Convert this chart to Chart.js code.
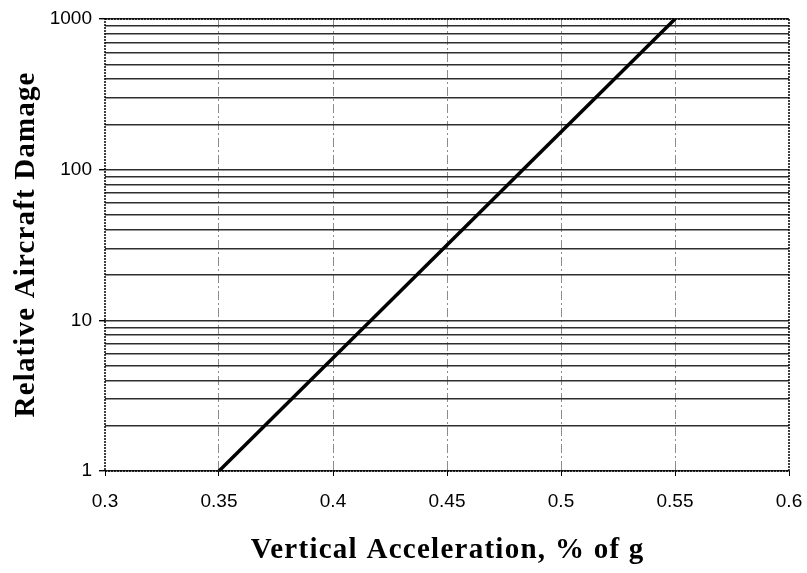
<!DOCTYPE html>
<html>
<head>
<meta charset="utf-8">
<script src="https://cdn.jsdelivr.net/npm/chart.js@4/dist/chart.umd.min.js"></script>
<style>
  html, body { margin:0; padding:0; background:#fff; }
  canvas { display:block; }
</style>
</head>
<body>
<canvas id="c" width="807" height="573"></canvas>
<script>
// damage curve (straight on the log scale)
const accel = [0.35, 0.55];
const damage = [1, 1000];

const xTicks = [0.3, 0.35, 0.4, 0.45, 0.5, 0.55, 0.6];
const yLabels = [1, 10, 100, 1000];
const yGrid = [1,2,3,4,5,6,7,8,9,10,20,30,40,50,60,70,80,90,100,200,300,400,500,600,700,800,900,1000];

const xTitle = 'Vertical Acceleration, % of g';
const yTitle = 'Relative Aircraft Damage';

const TICK_FONT = { family: "'Liberation Sans', Arial, sans-serif", size: 19 };
const SERIF = "'Liberation Serif', 'Times New Roman', serif";

// scanned titles are a bit wide-tracked, so spread them to the measured width
function spacedText(ctx, text, x, y, font, width) {
  ctx.font = font;
  ctx.textAlign = 'center';
  ctx.textBaseline = 'alphabetic';
  const natural = ctx.measureText(text).width;
  const gap = Math.max(0, (width - natural) / text.length);
  if ('letterSpacing' in ctx) {
    ctx.letterSpacing = gap + 'px';
    ctx.fillText(text, x + gap / 2, y);
    ctx.letterSpacing = '0px';
  } else {
    ctx.fillText(text, x, y);
  }
}

const frame = {
  id: 'frame',
  afterDraw(chart) {
    const { ctx, chartArea: a } = chart;
    ctx.save();
    ctx.strokeStyle = '#000';
    ctx.lineWidth = 1.5;
    ctx.setLineDash([2, 1]);
    ctx.strokeRect(a.left, a.top, a.right - a.left, a.bottom - a.top);
    ctx.setLineDash([]);
    ctx.fillStyle = '#000';
    spacedText(ctx, xTitle, (a.left + a.right) / 2, 558, 'bold 29px ' + SERIF, 394);
    ctx.translate(34, (a.top + a.bottom) / 2);
    ctx.rotate(-Math.PI / 2);
    spacedText(ctx, yTitle, 0, 0, 'bold 29px ' + SERIF, 346);
    ctx.restore();
  }
};

new Chart(document.getElementById('c'), {
  type: 'scatter',
  data: {
    datasets: [{
      data: accel.map((x, i) => ({ x, y: damage[i] })),
      showLine: true, borderColor: '#000', borderWidth: 3.5,
      pointRadius: 0, fill: false
    }]
  },
  options: {
    responsive: false, animation: false,
    layout: { padding: { left: 0, right: 0, top: 19, bottom: 0 } },
    plugins: { legend: { display: false }, tooltip: { enabled: false } },
    scales: {
      x: {
        type: 'linear', min: 0.3, max: 0.6,
        afterBuildTicks: s => { s.ticks = xTicks.map(v => ({ value: v })); },
        afterFit: s => { s.height = 573 - 471; s.paddingRight = 18; s.paddingLeft = 0; },
        grid: {
          color: c => (c.tick && (c.tick.value === 0.3 || c.tick.value === 0.6)) ? 'rgba(0,0,0,0)' : '#8c8c8c',
          lineWidth: 1, tickLength: 5, tickColor: '#000'
        },
        border: { display: false, dash: [9, 3, 2, 3] },
        ticks: {
          color: '#000', font: TICK_FONT, padding: 14, maxRotation: 0,
          callback: v => String(Math.round(v * 100) / 100)
        }
      },
      y: {
        type: 'logarithmic', min: 1, max: 1000,
        afterBuildTicks: s => { s.ticks = yGrid.map(v => ({ value: v })); },
        afterFit: s => { s.width = 105; },
        grid: {
          color: '#2e2e2e', lineWidth: 1.4, tickLength: 6,
          tickColor: c => (c.tick && yLabels.includes(c.tick.value)) ? '#000' : 'rgba(0,0,0,0)'
        },
        border: { display: false },
        ticks: {
          color: '#000', font: TICK_FONT, padding: 7, autoSkip: false,
          callback: v => yLabels.includes(v) ? String(v) : ''
        }
      }
    }
  },
  plugins: [frame]
});
</script>
</body>
</html>
